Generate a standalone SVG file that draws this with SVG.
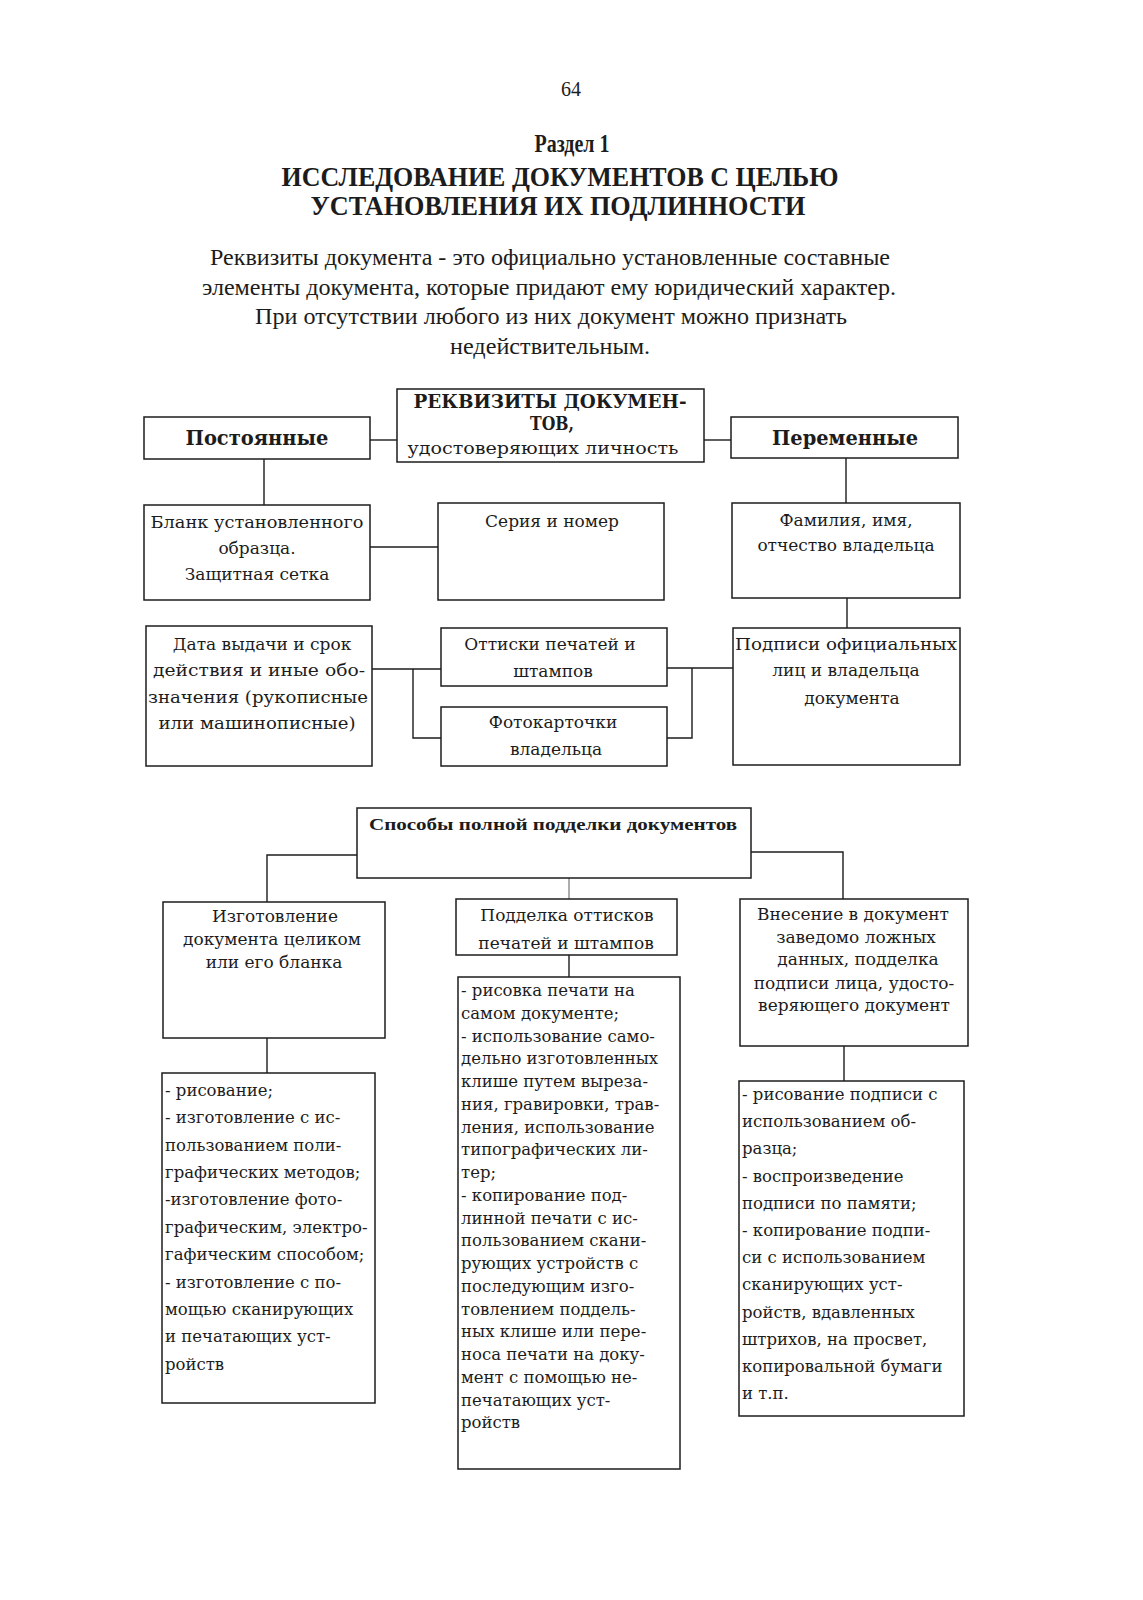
<svg xmlns="http://www.w3.org/2000/svg" width="1143" height="1600" viewBox="0 0 1143 1600">
<style>
.bx{fill:none;stroke:#1c1c1c;stroke-width:1.5}
.cn{fill:none;stroke:#1c1c1c;stroke-width:1.4}
.gr{stroke:#8a8a8a}
.ti{font-family:"Liberation Serif",serif;fill:#1c1c1c}
.tb{font-family:"Liberation Serif",serif;font-weight:bold;fill:#1c1c1c}
.ds{font-family:"DejaVu Serif",serif;fill:#1c1c1c;font-size:17px}
.dl{font-family:"DejaVu Serif",serif;fill:#1c1c1c;font-size:16.5px}
.db{font-family:"DejaVu Serif",serif;font-weight:bold;fill:#1c1c1c}
.c{text-anchor:middle}
</style>
<rect width="1143" height="1600" fill="#ffffff"/>

<g id="header">
<text class="ti c" x="571" y="96" font-size="20">64</text>
<text class="tb c" x="572" y="152" font-size="25" textLength="75" lengthAdjust="spacingAndGlyphs">Раздел 1</text>
<text class="tb c" x="560" y="186" font-size="28" textLength="557" lengthAdjust="spacingAndGlyphs">ИССЛЕДОВАНИЕ ДОКУМЕНТОВ С ЦЕЛЬЮ</text>
<text class="tb c" x="558" y="215" font-size="28" textLength="495" lengthAdjust="spacingAndGlyphs">УСТАНОВЛЕНИЯ ИХ ПОДЛИННОСТИ</text>
<text class="ti c" x="550" y="265" font-size="24" textLength="680" lengthAdjust="spacingAndGlyphs">Реквизиты документа - это официально установленные составные</text>
<text class="ti c" x="549" y="295" font-size="24" textLength="694" lengthAdjust="spacingAndGlyphs">элементы документа, которые придают ему юридический характер.</text>
<text class="ti c" x="551" y="324" font-size="24" textLength="592" lengthAdjust="spacingAndGlyphs">При отсутствии любого из них документ можно признать</text>
<text class="ti c" x="550" y="354" font-size="24" textLength="200" lengthAdjust="spacingAndGlyphs">недействительным.</text>
</g>

<g id="connectors">
<path class="cn" d="M370 440H397"/>
<path class="cn" d="M704 440H731"/>
<path class="cn" d="M264 459V505"/>
<path class="cn" d="M370 547H438"/>
<path class="cn" d="M846 458V503"/>
<path class="cn" d="M847 598V628"/>
<path class="cn" d="M372 669H441M413 669V738H441"/>
<path class="cn" d="M667 668H733M692 668V738H667"/>
<path class="cn" d="M357 855H267V902"/>
<path class="cn" d="M751 852H843V899"/>
<path class="cn gr" d="M569 878V899"/>
<path class="cn" d="M569 955V977"/>
<path class="cn" d="M267 1038V1073"/>
<path class="cn" d="M844 1046V1081"/>
</g>

<g id="n-rekv">
<rect class="bx" x="397" y="389" width="307" height="73"/>
<text class="db c" x="550" y="408" font-size="18" textLength="273" lengthAdjust="spacingAndGlyphs">РЕКВИЗИТЫ ДОКУМЕН-</text>
<text class="db c" x="552" y="430" font-size="18" textLength="44" lengthAdjust="spacingAndGlyphs">ТОВ,</text>
<text class="ds c" x="543" y="454" font-size="15" textLength="271" lengthAdjust="spacingAndGlyphs">удостоверяющих личность</text>
</g>
<g id="n-post">
<rect class="bx" x="144" y="417" width="226" height="42"/>
<text class="db c" x="257" y="445" font-size="20" textLength="143" lengthAdjust="spacingAndGlyphs">Постоянные</text>
</g>
<g id="n-perem">
<rect class="bx" x="731" y="417" width="227" height="41"/>
<text class="db c" x="845" y="445" font-size="20" textLength="146" lengthAdjust="spacingAndGlyphs">Переменные</text>
</g>
<g id="n-blank">
<rect class="bx" x="144" y="505" width="226" height="95"/>
<text class="ds c" x="257" y="528" textLength="213" lengthAdjust="spacingAndGlyphs">Бланк установленного</text>
<text class="ds c" x="257" y="554">образца.</text>
<text class="ds c" x="257" y="580">Защитная сетка</text>
</g>
<g id="n-seria">
<rect class="bx" x="438" y="503" width="226" height="97"/>
<text class="ds c" x="552" y="527">Серия и номер</text>
</g>
<g id="n-fio">
<rect class="bx" x="732" y="503" width="228" height="95"/>
<text class="ds c" x="846" y="526">Фамилия, имя,</text>
<text class="ds c" x="846" y="551">отчество владельца</text>
</g>
<g id="n-data">
<rect class="bx" x="146" y="626" width="226" height="140"/>
<text class="ds c" x="262" y="650">Дата выдачи и срок</text>
<text class="ds c" x="259" y="676" textLength="212" lengthAdjust="spacingAndGlyphs">действия и иные обо-</text>
<text class="ds c" x="258" y="703" textLength="220" lengthAdjust="spacingAndGlyphs">значения (рукописные</text>
<text class="ds c" x="257" y="729" textLength="197" lengthAdjust="spacingAndGlyphs">или машинописные)</text>
</g>
<g id="n-ottiski">
<rect class="bx" x="441" y="628" width="226" height="58"/>
<text class="ds c" x="550" y="650">Оттиски печатей и</text>
<text class="ds c" x="553" y="677">штампов</text>
</g>
<g id="n-foto">
<rect class="bx" x="441" y="707" width="226" height="59"/>
<text class="ds c" x="553" y="728">Фотокарточки</text>
<text class="ds c" x="556" y="755">владельца</text>
</g>
<g id="n-podpisi">
<rect class="bx" x="733" y="628" width="227" height="137"/>
<text class="ds c" x="846" y="650" textLength="222" lengthAdjust="spacingAndGlyphs">Подписи официальных</text>
<text class="ds c" x="846" y="676">лиц и владельца</text>
<text class="ds c" x="852" y="704">документа</text>
</g>

<g id="n-sposoby">
<rect class="bx" x="357" y="808" width="394" height="70"/>
<text class="tb c" x="553" y="830" font-size="17" textLength="368" lengthAdjust="spacingAndGlyphs">Способы полной подделки документов</text>
</g>
<g id="n-izgot">
<rect class="bx" x="163" y="902" width="222" height="136"/>
<text class="ds c" x="275" y="922">Изготовление</text>
<text class="ds c" x="272" y="945">документа целиком</text>
<text class="ds c" x="274" y="968">или его бланка</text>
</g>
<g id="n-poddelka">
<rect class="bx" x="456" y="899" width="221" height="56"/>
<text class="ds c" x="567" y="921">Подделка оттисков</text>
<text class="ds c" x="566" y="949">печатей и штампов</text>
</g>
<g id="n-vnesenie">
<rect class="bx" x="740" y="899" width="228" height="147"/>
<text class="ds c" x="853" y="920">Внесение в документ</text>
<text class="ds c" x="856" y="943">заведомо ложных</text>
<text class="ds c" x="858" y="965">данных, подделка</text>
<text class="ds c" x="854" y="989">подписи лица, удосто-</text>
<text class="ds c" x="854" y="1011">веряющего документ</text>
</g>

<g id="n-list-left">
<rect class="bx" x="162" y="1073" width="213" height="330"/>
<text class="dl">
<tspan x="165" y="1096">- рисование;</tspan>
<tspan x="165" y="1123.4">- изготовление с ис-</tspan>
<tspan x="165" y="1150.7">пользованием поли-</tspan>
<tspan x="165" y="1178">графических методов;</tspan>
<tspan x="165" y="1205.4">-изготовление фото-</tspan>
<tspan x="165" y="1232.8">графическим, электро-</tspan>
<tspan x="165" y="1260.1">гафическим способом;</tspan>
<tspan x="165" y="1287.5">- изготовление с по-</tspan>
<tspan x="165" y="1314.8">мощью сканирующих</tspan>
<tspan x="165" y="1342.2">и печатающих уст-</tspan>
<tspan x="165" y="1369.5">ройств</tspan>
</text>
</g>
<g id="n-list-mid">
<rect class="bx" x="458" y="977" width="222" height="492"/>
<text class="dl">
<tspan x="461" y="996">- рисовка печати на</tspan>
<tspan x="461" y="1018.8">самом документе;</tspan>
<tspan x="461" y="1041.5">- использование само-</tspan>
<tspan x="461" y="1064.3">дельно изготовленных</tspan>
<tspan x="461" y="1087">клише путем выреза-</tspan>
<tspan x="461" y="1109.8">ния, гравировки, трав-</tspan>
<tspan x="461" y="1132.6">ления, использование</tspan>
<tspan x="461" y="1155.3">типографических ли-</tspan>
<tspan x="461" y="1178.1">тер;</tspan>
<tspan x="461" y="1200.8">- копирование под-</tspan>
<tspan x="461" y="1223.6">линной печати с ис-</tspan>
<tspan x="461" y="1246.4">пользованием скани-</tspan>
<tspan x="461" y="1269.1">рующих устройств с</tspan>
<tspan x="461" y="1291.9">последующим изго-</tspan>
<tspan x="461" y="1314.6">товлением поддель-</tspan>
<tspan x="461" y="1337.4">ных клише или пере-</tspan>
<tspan x="461" y="1360.2">носа печати на доку-</tspan>
<tspan x="461" y="1382.9">мент с помощью не-</tspan>
<tspan x="461" y="1405.7">печатающих уст-</tspan>
<tspan x="461" y="1428.4">ройств</tspan>
</text>
</g>
<g id="n-list-right">
<rect class="bx" x="739" y="1081" width="225" height="335"/>
<text class="dl">
<tspan x="742" y="1100">- рисование подписи с</tspan>
<tspan x="742" y="1127.2">использованием об-</tspan>
<tspan x="742" y="1154.4">разца;</tspan>
<tspan x="742" y="1181.6">- воспроизведение</tspan>
<tspan x="742" y="1208.8">подписи по памяти;</tspan>
<tspan x="742" y="1236">- копирование подпи-</tspan>
<tspan x="742" y="1263.2">си с использованием</tspan>
<tspan x="742" y="1290.4">сканирующих уст-</tspan>
<tspan x="742" y="1317.6">ройств, вдавленных</tspan>
<tspan x="742" y="1344.8">штрихов, на просвет,</tspan>
<tspan x="742" y="1372">копировальной бумаги</tspan>
<tspan x="742" y="1399.2">и т.п.</tspan>
</text>
</g>
</svg>
